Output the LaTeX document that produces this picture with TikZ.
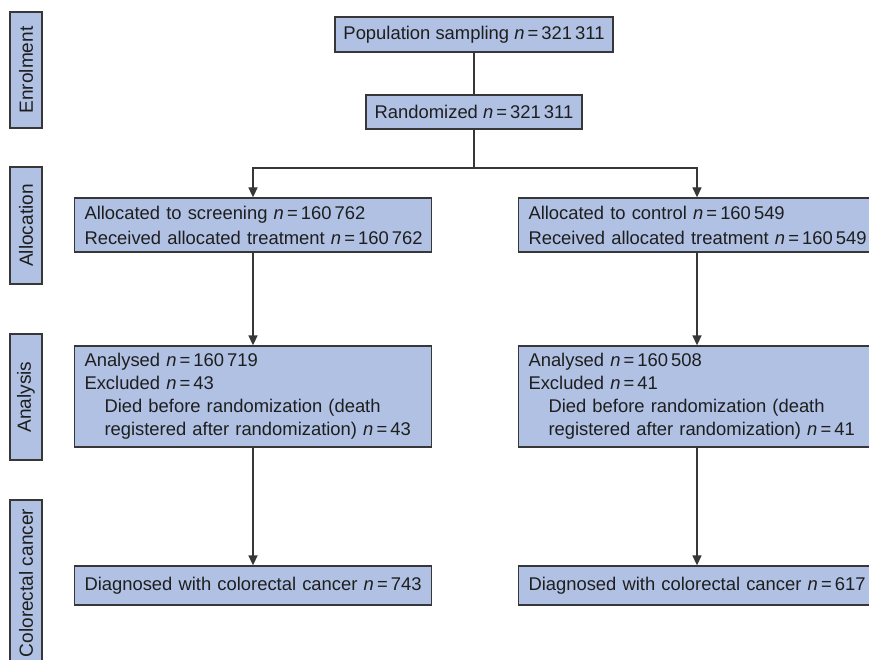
\documentclass[tikz,border=0pt]{standalone}
\usepackage{fontspec}
\setmainfont{Liberation Sans}
\usetikzlibrary{arrows.meta}
\definecolor{boxfill}{RGB}{176,193,228}
\definecolor{boxline}{RGB}{55,55,55}
\definecolor{txt}{RGB}{30,30,30}
\newcommand{\nn}{\textit{n}\,=\,}
\begin{document}
\begin{tikzpicture}[x=0.75pt,y=-0.75pt,
  box/.style={draw=boxline,fill=boxfill,line width=1pt,text=txt,inner sep=0pt,
    font=\fontsize{13.8}{18.75}\selectfont},
  cbox/.style={box,align=center},
  lbox/.style={box,align=left,text width=252.75pt,inner xsep=7.5pt},
  side/.style={box,rotate=90,minimum height=24pt,font=\fontsize{14.3}{17}\selectfont},
  conn/.style={draw=boxline,line width=1pt},
  arr/.style={conn,-{Triangle[length=7.5pt,width=6.8pt]}}]
\useasboundingbox (0,0) rectangle (869,660);
\clip (0,0) rectangle (869,660);
% side labels
\node[side,minimum width=87pt] (enr) at (26,70) {Enrolment};
\node[side,minimum width=87.75pt] (all) at (26,225.5) {Allocation};
\node[side,minimum width=94.5pt] (ana) at (26,397) {Analysis};
\node[side,minimum width=124.5pt] (crc) at (26,583) {Colorectal cancer};
% main boxes
\node[cbox,minimum width=208.5pt,minimum height=26.25pt] (pop) at (474,34.5) {Population sampling \nn321\,311};
\node[cbox,minimum width=162pt,minimum height=25.5pt] (rand) at (474,112) {Randomized \nn321\,311};
\node[lbox,minimum height=40.5pt] (a1) at (253,225) {\mbox{Allocated to screening \nn160\,762}\\\mbox{Received allocated treatment \nn160\,762}};
\node[lbox,minimum height=40.5pt] (a2) at (697,225) {\mbox{Allocated to control \nn160\,549}\\\mbox{Received allocated treatment \nn160\,549}};
\node[lbox,minimum height=75.75pt,font=\fontsize{13.8}{17.25}\selectfont] (b1) at (253,396.5) {\mbox{Analysed \nn160\,719}\\\mbox{Excluded \nn43}\\\mbox{\hspace*{15pt}Died before randomization (death}\\\mbox{\hspace*{15pt}registered after randomization) \nn43}};
\node[lbox,minimum height=75.75pt,font=\fontsize{13.8}{17.25}\selectfont] (b2) at (697,396.5) {\mbox{Analysed \nn160\,508}\\\mbox{Excluded \nn41}\\\mbox{\hspace*{15pt}Died before randomization (death}\\\mbox{\hspace*{15pt}registered after randomization) \nn41}};
\node[lbox,minimum height=29.25pt] (c1) at (253,585.5) {\mbox{Diagnosed with colorectal cancer \nn743}};
\node[lbox,minimum height=29.25pt] (c2) at (697,585.5) {\mbox{Diagnosed with colorectal cancer \nn617}};
% connectors
\coordinate (split) at (474,168);
\draw[conn] (pop.south) -- (rand.north);
\draw[arr] (rand.south) -- (split) -| (a1.north);
\draw[arr] (split) -| (a2.north);
\draw[arr] (a1.south) -- (b1.north);
\draw[arr] (a2.south) -- (b2.north);
\draw[arr] (b1.south) -- (c1.north);
\draw[arr] (b2.south) -- (c2.north);
\end{tikzpicture}
\end{document}
